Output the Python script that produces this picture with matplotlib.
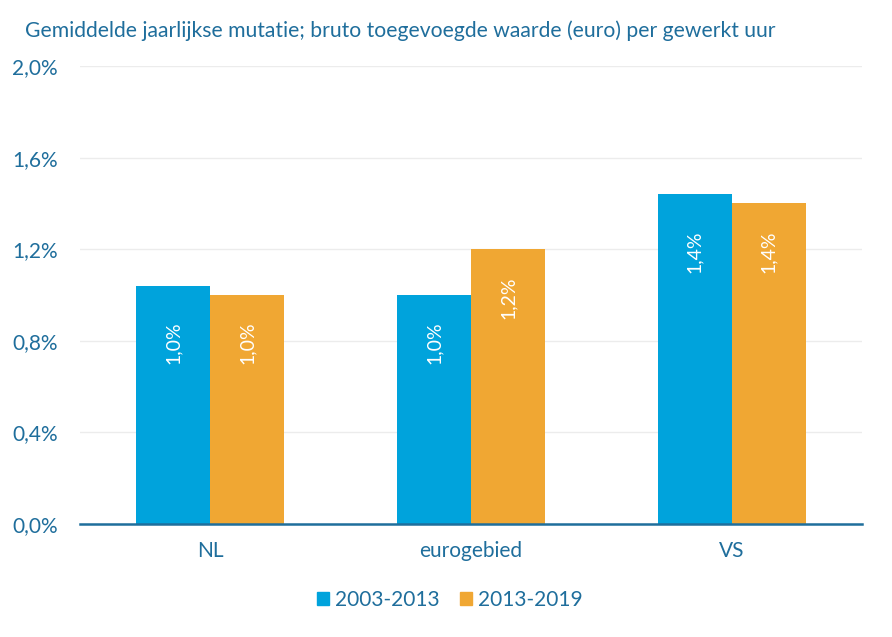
import matplotlib.pyplot as plt
import numpy as np

plt.rcParams['font.family'] = ['Lato', 'DejaVu Sans']

categories = ['NL', 'eurogebied', 'VS']
series_names = ['2003-2013', '2013-2019']
values_0313 = [1.04, 1.0, 1.44]
values_1319 = [1.0, 1.2, 1.4]
y_ticks = [0.0, 0.4, 0.8, 1.2, 1.6, 2.0]
title = 'Gemiddelde jaarlijkse mutatie; bruto toegevoegde waarde (euro) per gewerkt uur'

blue = '#00a3dc'
orange = '#f0a733'
text_col = '#1f6e9c'

fig = plt.figure(figsize=(8.92, 6.37), dpi=100)
ax = fig.add_axes([80 / 892, 1 - 524 / 637, 782 / 892, 458 / 637])

x = np.arange(len(categories))
w = 0.284
for vals, col, off in [(values_0313, blue, -w / 2), (values_1319, orange, w / 2)]:
    bars = ax.bar(x + off, vals, width=w, color=col, zorder=3)
    for b, v in zip(bars, vals):
        lab = f'{v:.1f}%'.replace('.', ',')
        ax.text(b.get_x() + b.get_width() / 2, round(v, 1) - 0.21, lab,
                rotation=90, ha='center', va='center', color='white',
                fontsize=14, zorder=4)

ax.set_xlim(-0.5, 2.5)
ax.set_ylim(0, 2.0)
ax.set_yticks(y_ticks)
ax.set_yticklabels([f'{t:.1f}%'.replace('.', ',') for t in y_ticks])
ax.set_xticks(x)
ax.set_xticklabels(categories)
ax.tick_params(axis='both', length=0, labelsize=15, colors=text_col)
ax.tick_params(axis='y', pad=16)
ax.tick_params(axis='x', pad=12)
ax.grid(axis='y', color='#ececec', linewidth=1, zorder=0)
for s in ['top', 'right', 'left']:
    ax.spines[s].set_visible(False)
ax.spines['bottom'].set_color('#1f6e9c')
ax.spines['bottom'].set_linewidth(1.8)
ax.spines['bottom'].set_zorder(5)

fig.text(25 / 892, 1 - 31 / 637, title, fontsize=15.2, color=text_col, va='center')

handles = [plt.Rectangle((0, 0), 1, 1, color=c) for c in (blue, orange)]
fig.legend(handles, series_names, loc='center', bbox_to_anchor=(450 / 892, 1 - 600 / 637),
           ncol=2, frameon=False, fontsize=15, labelcolor=text_col,
           handlelength=0.55, handleheight=0.55, handletextpad=0.3, columnspacing=1.0)

fig.savefig('out.png', dpi=100)
